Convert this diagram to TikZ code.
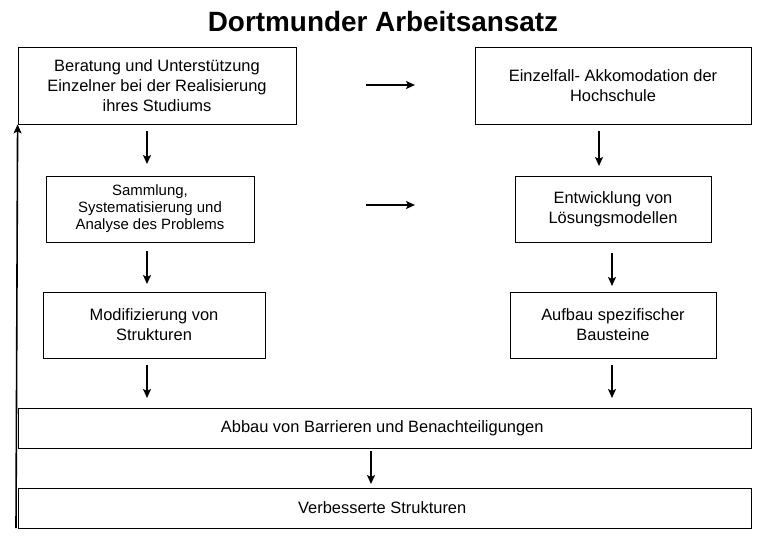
\documentclass[tikz,border=0pt]{standalone}
\usepackage{fontspec}
\setmainfont{Liberation Sans}
\usetikzlibrary{arrows.meta}
\tikzset{
  box/.style={draw, line width=0.8pt, align=center, inner sep=0pt, font=\fontsize{16.5}{20}\selectfont},
  arr/.style={line width=1.6pt, -{Stealth[length=9pt,width=8pt,inset=2pt]}}
}
\begin{document}
\begin{tikzpicture}[x=1bp,y=-1bp]
  \useasboundingbox (0,0) rectangle (767,536);
  \node [font=\fontsize{28}{32}\bfseries] (title) at (383,22) { Dortmunder Arbeitsansatz };
  % linke Spalte
  \node [box, minimum width=278bp, minimum height=77bp] (bera) at (157,85.5) { Beratung und Unterstützung\\Einzelner bei der Realisierung\\ihres Studiums };
  \node [box, minimum width=208bp, minimum height=66bp, font=\fontsize{15}{17}\selectfont] (samm) at (150,209) { Sammlung,\\Systematisierung und\\Analyse des Problems };
  \node [box, minimum width=222bp, minimum height=66bp] (modi) at (154,325) { Modifizierung von\\Strukturen };
  % rechte Spalte
  \node [box, minimum width=276bp, minimum height=77bp] (akko) at (613,85.5) { Einzelfall- Akkomodation der\\Hochschule };
  \node [box, minimum width=196bp, minimum height=66bp] (entw) at (613,209) { Entwicklung von\\Lösungsmodellen };
  \node [box, minimum width=206bp, minimum height=66bp] (aufb) at (613,325) { Aufbau spezifischer\\Bausteine };
  % unten
  \node [box, minimum width=733bp, minimum height=40bp] (abba) at (384.5,428) { Abbau von Barrieren und Benachteiligungen };
  \node [box, minimum width=733bp, minimum height=40bp] (verb) at (384.5,508) { Verbesserte Strukturen };
  % Pfeile
  \coordinate (h1) at (366,85);
  \coordinate (h2) at (366,205);
  \draw [arr] (h1) -- ++(49,0);
  \draw [arr] (h2) -- ++(49,0);
  \draw [arr] (147,131) -- (147,164);
  \draw [arr] (599,131) -- (599,166);
  \draw [arr] (147,251) -- (147,284);
  \draw [arr] (612,253) -- (612,286);
  \draw [arr] (147,365) -- (147,398);
  \draw [arr] (612,365) -- (612,398);
  \draw [arr] (371,451) -- (371,484);
  \draw [arr] (16,528) -- (bera.south west);
\end{tikzpicture}
\end{document}
